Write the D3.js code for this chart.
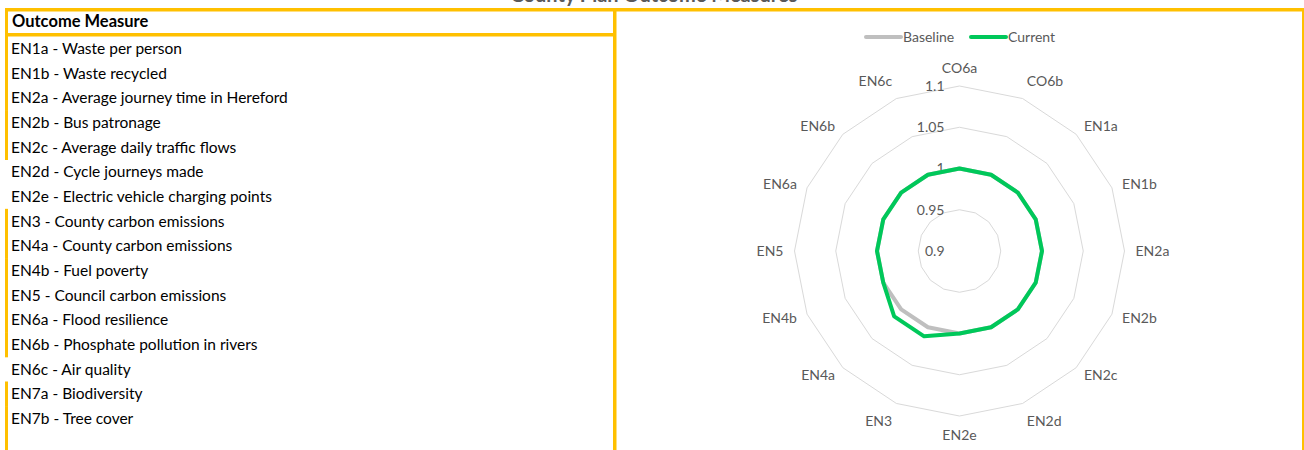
<!DOCTYPE html>
<html>
<head>
<meta charset="utf-8">
<script src="https://cdn.jsdelivr.net/npm/d3@7"></script>
<style>
  body { margin: 0; background: #fff; }
  svg { display: block; font-family: Lato, "Open Sans", sans-serif; }
</style>
</head>
<body>
<div id="chart"></div>
<script>
// radar axes, clockwise from the top
const axes = ["CO6a", "CO6b", "EN1a", "EN1b", "EN2a", "EN2b", "EN2c", "EN2d",
              "EN2e", "EN3", "EN4a", "EN4b", "EN5", "EN6a", "EN6b", "EN6c"];
const baseline = [1, 1, 1, 1, 1, 1, 1, 1, 1, 1, 1, 1, 1, 1, 1, 1];
const current  = [1, 1, 1, 1, 1, 1, 1, 1, 1, 1.012, 1.012, 1, 1, 1, 1, 1];
const ticks = [0.9, 0.95, 1, 1.05, 1.1];

const measures = [
    "EN1a - Waste per person",
    "EN1b - Waste recycled",
    "EN2a - Average journey time in Hereford",
    "EN2b - Bus patronage",
    "EN2c - Average daily traffic flows",
    "EN2d - Cycle journeys made",
    "EN2e - Electric vehicle charging points",
    "EN3 - County carbon emissions",
    "EN4a - County carbon emissions",
    "EN4b - Fuel poverty",
    "EN5 - Council carbon emissions",
    "EN6a - Flood resilience",
    "EN6b - Phosphate pollution in rivers",
    "EN6c - Air quality",
    "EN7a - Biodiversity",
    "EN7b - Tree cover"
];

const width = 1304, height = 450;
const yellow = "#FFC000";
const textGrey = "#595959";

const svg = d3.select("#chart").append("svg")
    .attr("width", width)
    .attr("height", height);

// cut-off title at the very top
svg.append("text")
    .attr("x", 654).attr("y", 1.5)
    .attr("text-anchor", "middle")
    .style("font-size", "20px")
    .style("font-weight", "bold")
    .style("fill", textGrey)
    .text("County Plan Outcome Measures");

// ---- left table ----
const rowY = d3.scaleLinear().domain([0, measures.length - 1]).range([48.5, 418.5]);
const rowStep = rowY(1) - rowY(0);
const noLeftBorder = new Set(["EN2d", "EN2e", "EN6c"]);

const table = svg.append("g");

table.selectAll("text.row")
    .data(measures)
    .join("text")
    .attr("class", "row")
    .attr("x", 11)
    .attr("y", (d, i) => rowY(i))
    .attr("dy", "0.35em")
    .style("font-size", "15.5px")
    .style("fill", "#000")
    .text(d => d);

// left border pieces of the rows
table.selectAll("rect.lb")
    .data(measures.filter(d => !noLeftBorder.has(d.split(" ")[0])))
    .join("rect")
    .attr("class", "lb")
    .attr("x", 5)
    .attr("width", 3)
    .attr("y", d => {
        const i = measures.indexOf(d);
        return i === 0 ? 36 : rowY(i) - rowStep / 2;
    })
    .attr("height", d => {
        const i = measures.indexOf(d);
        const top = i === 0 ? 36 : rowY(i) - rowStep / 2;
        const bottom = i === measures.length - 1 ? height : rowY(i) + rowStep / 2;
        return bottom - top + 0.5;
    })
    .attr("fill", yellow);

// header box
table.append("rect").attr("x", 5).attr("y", 8).attr("width", 3).attr("height", 28).attr("fill", yellow);
table.append("rect").attr("x", 5).attr("y", 33).attr("width", 610).attr("height", 3.5).attr("fill", yellow);
table.append("text")
    .attr("x", 12).attr("y", 21.5)
    .attr("dy", "0.35em")
    .style("font-size", "16.5px")
    .style("font-weight", "bold")
    .text("Outcome Measure");

// outer frame
svg.append("rect").attr("x", 5).attr("y", 8).attr("width", width - 5).attr("height", 3.5).attr("fill", yellow);
svg.append("rect").attr("x", 613).attr("y", 8).attr("width", 3.5).attr("height", height - 8).attr("fill", yellow);
svg.append("rect").attr("x", 1302).attr("y", 8).attr("width", 2).attr("height", height - 8).attr("fill", yellow);

// ---- radar ----
const cx = 959.5, cy = 251, R = 165;
const r = d3.scaleLinear().domain([0.9, 1.1]).range([0, R]);
const angle = d3.scaleBand().domain(axes).range([0, 2 * Math.PI]).align(0);
const ang = name => angle(name);

const radar = svg.append("g").attr("transform", `translate(${cx},${cy})`);

const ring = d3.lineRadial()
    .angle(d => ang(d))
    .curve(d3.curveLinearClosed);

radar.selectAll("path.grid")
    .data(ticks.slice(1))
    .join("path")
    .attr("class", "grid")
    .attr("d", t => ring.radius(r(t))(axes))
    .attr("fill", "none")
    .attr("stroke", "#D9D9D9")
    .attr("stroke-width", 1);

// axis labels
radar.selectAll("text.axis")
    .data(axes)
    .join("text")
    .attr("class", "axis")
    .each(function(d) {
        const a = ang(d);
        const s = Math.sin(a), c = Math.cos(a);
        const rr = R + 11;
        const t = d3.select(this)
            .attr("x", rr * s)
            .attr("y", -rr * c);
        t.attr("text-anchor", s > 0.1 ? "start" : (s < -0.1 ? "end" : "middle"));
        t.attr("dy", c > 0.9 ? "-0.15em" : (c < -0.9 ? "0.9em" : "0.35em"));
    })
    .style("font-size", "14px")
    .style("fill", textGrey)
    .text(d => d);

// value ticks
radar.selectAll("text.tick")
    .data(ticks)
    .join("text")
    .attr("class", "tick")
    .attr("x", -15)
    .attr("y", t => -r(t))
    .attr("dy", "0.35em")
    .attr("text-anchor", "end")
    .style("font-size", "14px")
    .style("fill", textGrey)
    .text(t => d3.format("~g")(t));

const series = [
    { name: "Baseline", values: baseline, color: "#BFBFBF" },
    { name: "Current", values: current, color: "#00C85A" }
];

const line = d3.lineRadial()
    .angle((d, i) => ang(axes[i]))
    .radius(d => r(d))
    .curve(d3.curveLinearClosed);

radar.selectAll("path.series")
    .data(series)
    .join("path")
    .attr("class", "series")
    .attr("d", s => line(s.values))
    .attr("fill", "none")
    .attr("stroke", s => s.color)
    .attr("stroke-width", 4)
    .attr("stroke-linejoin", "round");

// legend
const legendX = [866, 971];
const legend = svg.selectAll("g.legend")
    .data(series)
    .join("g")
    .attr("class", "legend")
    .attr("transform", (d, i) => `translate(${legendX[i]},37)`);

legend.append("line")
    .attr("x1", 0).attr("x2", 35)
    .attr("stroke", d => d.color)
    .attr("stroke-width", 4)
    .attr("stroke-linecap", "round");

legend.append("text")
    .attr("x", 37)
    .attr("dy", "0.35em")
    .style("font-size", "14px")
    .style("fill", textGrey)
    .text(d => d.name);
</script>
</body>
</html>
